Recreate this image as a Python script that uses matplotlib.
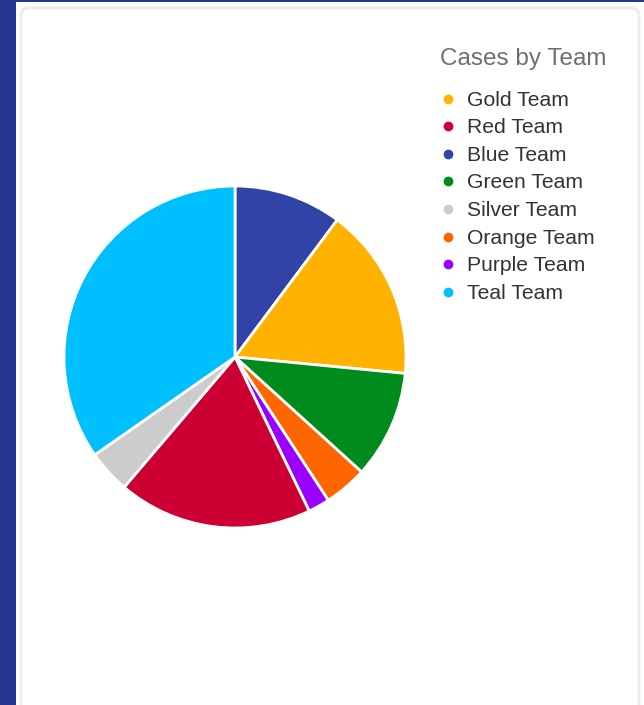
import matplotlib
matplotlib.use('Agg')
import matplotlib.pyplot as plt
from matplotlib.patches import Rectangle, FancyBboxPatch

# slices in drawing order (clockwise from 12 o'clock)
pie_teams = ['Blue Team', 'Gold Team', 'Green Team', 'Orange Team',
             'Purple Team', 'Red Team', 'Silver Team', 'Teal Team']
pie_cases = [5, 8, 5, 2, 1, 9, 2, 17]

# legend order
legend_teams = ['Gold Team', 'Red Team', 'Blue Team', 'Green Team',
                'Silver Team', 'Orange Team', 'Purple Team', 'Teal Team']

team_colors = {
    'Gold Team': '#ffb300',
    'Red Team': '#cc0033',
    'Blue Team': '#3243a8',
    'Green Team': '#008c1c',
    'Silver Team': '#cccccc',
    'Orange Team': '#ff6600',
    'Purple Team': '#9a00ff',
    'Teal Team': '#00bfff',
}

W, H = 644, 705
fig = plt.figure(figsize=(W / 100, H / 100), dpi=100)
fig.patch.set_facecolor('#283593')

# card background in pixel coords
bg = fig.add_axes([0, 0, 1, 1])
bg.set_xlim(0, W)
bg.set_ylim(H, 0)
bg.axis('off')
bg.add_patch(Rectangle((16, 2), W, H, facecolor='white', edgecolor='none'))
bg.add_patch(FancyBboxPatch((21, 8), 618, 720,
                            boxstyle='round,pad=0,rounding_size=8',
                            facecolor='white', edgecolor='#ebebeb', linewidth=2))

# pie
cx, cy, r = 235, 357, 171
ax = fig.add_axes([(cx - r) / W, (H - cy - r) / H, 2 * r / W, 2 * r / H])
wedges, _ = ax.pie(pie_cases, colors=[team_colors[t] for t in pie_teams],
                   startangle=90, counterclock=False,
                   wedgeprops=dict(edgecolor='white', linewidth=2))
for w in wedges:
    w.set_clip_on(False)
ax.set_xlim(-1, 1)
ax.set_ylim(-1, 1)
ax.set_aspect('equal')
ax.axis('off')

# legend
bg.text(440, 59, 'Cases by Team', fontsize=17.5, color='#6f6f6f',
        family='Liberation Sans', va='center', ha='left')
for i, team in enumerate(legend_teams):
    y = 98.5 + i * 27.6
    bg.plot([448], [y], 'o', markersize=6, color=team_colors[team])
    bg.text(467, y + 1.5, team, fontsize=15.2, color='#333333',
            family='Liberation Sans', va='center', ha='left')

plt.savefig('out.png', dpi=100)
